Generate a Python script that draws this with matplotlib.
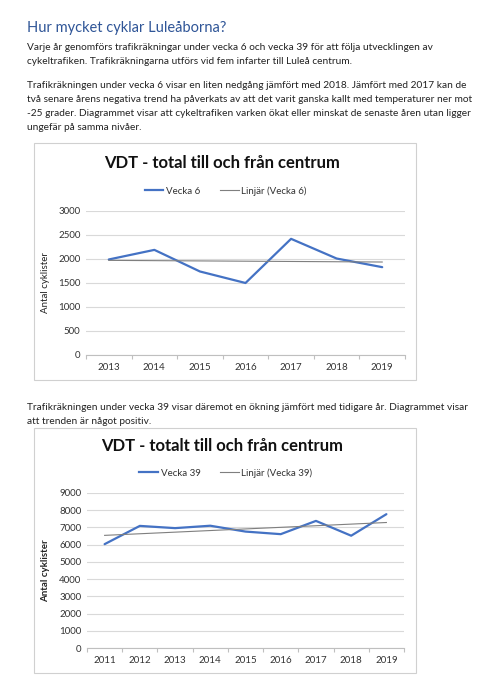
import numpy as np
import matplotlib.pyplot as plt
from matplotlib.patches import Rectangle
from matplotlib.lines import Line2D

plt.rcParams['font.family'] = ['Lato', 'DejaVu Sans']

# data
years_v6 = ['2013', '2014', '2015', '2016', '2017', '2018', '2019']
vecka6 = [1990, 2190, 1740, 1500, 2420, 2010, 1830]

years_v39 = ['2011', '2012', '2013', '2014', '2015', '2016', '2017', '2018', '2019']
vecka39 = [6030, 7090, 6960, 7100, 6760, 6610, 7380, 6520, 7770]

W, H = 488, 700
fig = plt.figure(figsize=(W / 100, H / 100), dpi=100)
fig.patch.set_facecolor('white')


def fx(px):
    return px / W


def fy(py):
    return 1 - py / H


blue = '#4472C4'
txt = '#222222'

# document text
fig.text(fx(27), fy(28), 'Hur mycket cyklar Luleåborna?', fontsize=10.5, color='#2F5597', va='center')
body = [
    (47, 'Varje år genomförs trafikräkningar under vecka 6 och vecka 39 för att följa utvecklingen av'),
    (61, 'cykeltrafiken. Trafikräkningarna utförs vid fem infarter till Luleå centrum.'),
    (85, 'Trafikräkningen under vecka 6 visar en liten nedgång jämfört med 2018. Jämfört med 2017 kan de'),
    (99, 'två senare årens negativa trend ha påverkats av att det varit ganska kallt med temperaturer ner mot'),
    (113, '-25 grader. Diagrammet visar att cykeltrafiken varken ökat eller minskat de senaste åren utan ligger'),
    (127, 'ungefär på samma nivåer.'),
    (408, 'Trafikräkningen under vecka 39 visar däremot en ökning jämfört med tidigare år. Diagrammet visar'),
    (422, 'att trenden är något positiv.'),
]
for y, s in body:
    fig.text(fx(27), fy(y), s, fontsize=7.3, color=txt, va='center')

label_names = {
    'VDT - total till och från centrum': 'Vecka 6',
    'VDT - totalt till och från centrum': 'Vecka 39',
}


def draw_chart(frame, title, title_y, legend_y, ax_box, cats, vals, ymax, label, bold_label):
    x0, y0, x1, y1 = frame
    fig.patches.append(Rectangle((fx(x0), fy(y1)), fx(x1) - fx(x0), fy(y0) - fy(y1),
                                 transform=fig.transFigure, fill=False,
                                 edgecolor='#D0D0D0', linewidth=0.8))
    fig.text(fx(222), fy(title_y), title, fontsize=12, fontweight='bold',
             ha='center', va='center', color='#111111')

    l, t, r, b = ax_box
    ax = fig.add_axes([fx(l), fy(b), fx(r) - fx(l), fy(t) - fy(b)])
    x = np.arange(len(cats))
    ax.plot(x, vals, color=blue, linewidth=1.6, solid_capstyle='round')
    k, m = np.polyfit(x, vals, 1)
    ax.plot(x, k * x + m, color='#7F7F7F', linewidth=0.8)

    ax.set_xlim(-0.5, len(cats) - 0.5)
    ax.set_ylim(0, ymax)
    step = 500 if ymax <= 3000 else 1000
    ax.set_yticks(np.arange(0, ymax + 1, step))
    ax.set_xticks(x)
    ax.set_xticklabels(cats)
    ax.set_xticks(np.arange(-0.5, len(cats)), minor=True)
    ax.tick_params(axis='x', which='major', length=0, pad=6, labelsize=7, colors='#333333')
    ax.tick_params(axis='x', which='minor', length=3, color='#BFBFBF', width=0.8)
    ax.tick_params(axis='y', length=0, pad=4, labelsize=7, colors='#333333')
    ax.grid(axis='y', color='#D9D9D9', linewidth=0.8)
    ax.set_axisbelow(True)
    for s in ['top', 'right', 'left']:
        ax.spines[s].set_visible(False)
    ax.spines['bottom'].set_color('#BFBFBF')
    ax.spines['bottom'].set_linewidth(0.8)
    ax.set_ylabel(label, fontsize=7, fontweight='bold' if bold_label else 'normal', color='#222222')
    ax.yaxis.set_label_coords((50 - l) / (r - l), 0.5)

    handles = [Line2D([], [], color=blue, linewidth=1.6),
               Line2D([], [], color='#7F7F7F', linewidth=0.8)]
    name = label_names[title]
    fig.legend(handles, [name, 'Linjär (' + name + ')'], loc='center',
               bbox_to_anchor=(fx(226), fy(legend_y)), ncol=2, frameon=False,
               fontsize=7, handlelength=1.9, handletextpad=0.3, columnspacing=2.0,
               labelcolor='#333333')
    return ax


draw_chart((34, 143, 416, 380), 'VDT - total till och från centrum', 163, 191,
           (86, 211, 405, 355), years_v6, vecka6, 3000, 'Antal cyklister', False)
draw_chart((34, 428, 416, 673), 'VDT - totalt till och från centrum', 446, 473,
           (87, 493, 404, 648), years_v39, vecka39, 9000, 'Antal cyklister', True)

fig.savefig('out.png', dpi=100, facecolor='white')
